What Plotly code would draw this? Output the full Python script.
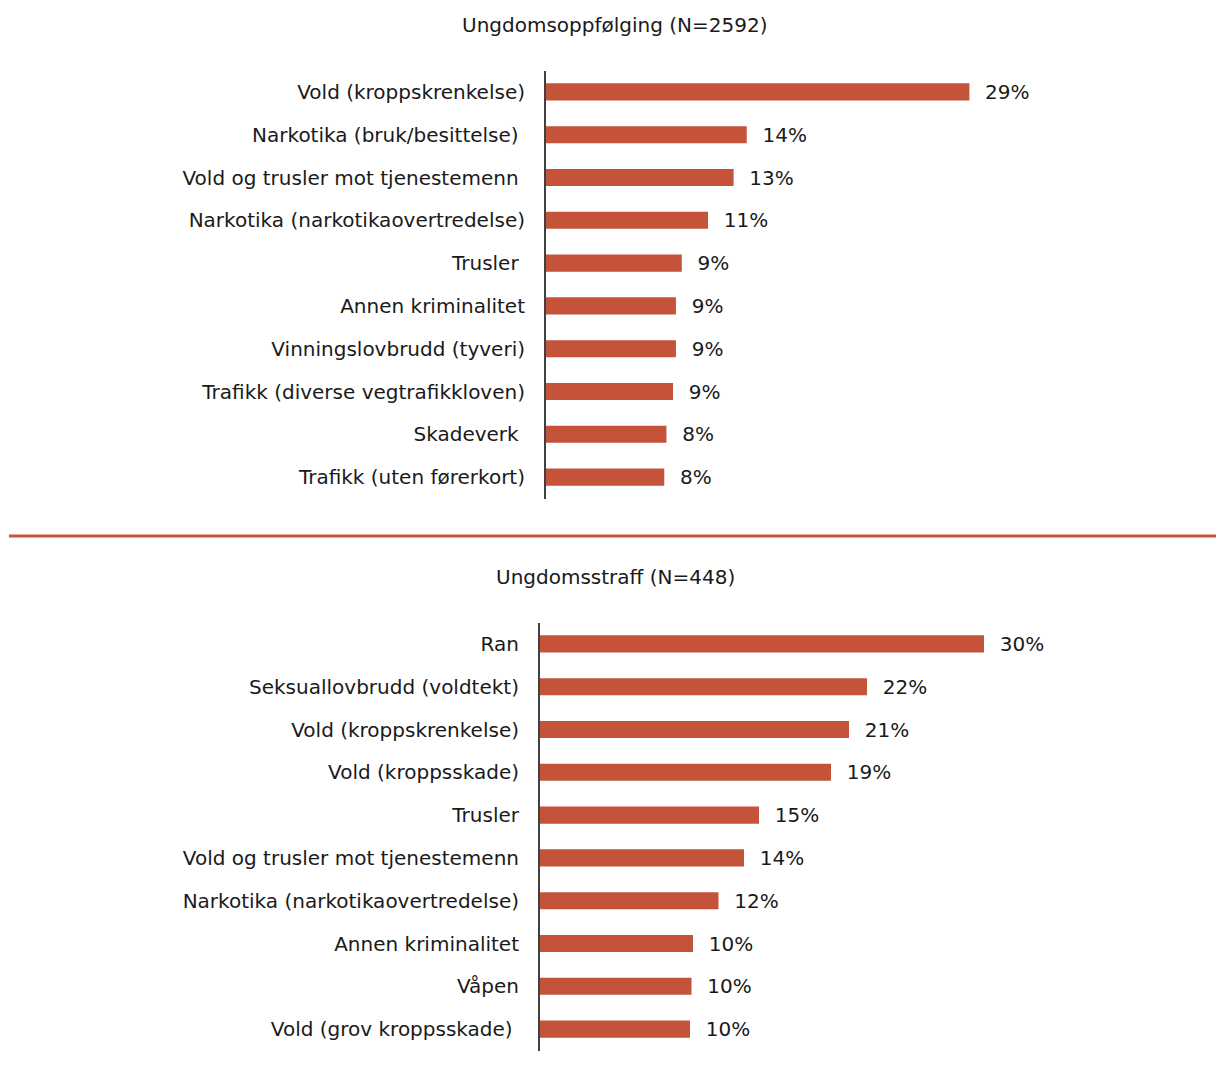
import plotly.graph_objects as go

# Ungdomsoppfølging (N=2592)
top_title = "Ungdomsoppfølging (N=2592)"
top_labels = [
    "Vold (kroppskrenkelse)",
    "Narkotika (bruk/besittelse) ",
    "Vold og trusler mot tjenestemenn ",
    "Narkotika (narkotikaovertredelse)",
    "Trusler ",
    "Annen kriminalitet",
    "Vinningslovbrudd (tyveri)",
    "Trafikk (diverse vegtrafikkloven)",
    "Skadeverk ",
    "Trafikk (uten førerkort)",
]
top_values = [29.0, 13.75, 12.85, 11.1, 9.3, 8.9, 8.9, 8.7, 8.25, 8.1]

# Ungdomsstraff (N=448)
bottom_title = "Ungdomsstraff (N=448)"
bottom_labels = [
    "Ran",
    "Seksuallovbrudd (voldtekt)",
    "Vold (kroppskrenkelse)",
    "Vold (kroppsskade)",
    "Trusler",
    "Vold og trusler mot tjenestemenn",
    "Narkotika (narkotikaovertredelse)",
    "Annen kriminalitet",
    "Våpen",
    "Vold (grov kroppsskade) ",
]
bottom_values = [29.6, 21.8, 20.6, 19.4, 14.6, 13.6, 11.9, 10.2, 10.1, 10.0]

BAR = "#C4533A"
TXT = "#1a1a1a"
FONT = "DejaVu Sans"
FS = 20
W, H = 1216, 1084

fig = go.Figure()

for xs, ys, xa, ya in [(top_values, top_labels, "x", "y"),
                       (bottom_values, bottom_labels, "x2", "y2")]:
    fig.add_trace(go.Bar(
        x=xs, y=ys, orientation="h",
        marker=dict(color=BAR, line=dict(width=0)),
        texttemplate="  %{x:.0f}%", textposition="outside",
        constraintext="none",
        textfont=dict(color=TXT, size=FS), cliponaxis=False,
        xaxis=xa, yaxis=ya, hoverinfo="skip",
    ))

yax = dict(autorange="reversed", showline=True, linecolor="#404040", linewidth=2,
           showgrid=False, zeroline=False, ticks="", ticklabelstandoff=15,
           tickfont=dict(size=FS, color=TXT))
xax = dict(visible=False, showgrid=False, zeroline=False)

fig.update_layout(
    width=W, height=H,
    margin=dict(l=0, r=0, t=0, b=0),
    paper_bgcolor="white", plot_bgcolor="white",
    font=dict(family=FONT, color=TXT, size=FS),
    showlegend=False, bargap=0.6,
    xaxis=dict(xax, domain=[546 / W, 1], range=[0, (W - 546) / 14.6]),
    yaxis=dict(yax, domain=[1 - 498.5 / H, 1 - 70.5 / H], anchor="x"),
    xaxis2=dict(xax, domain=[540 / W, 1], range=[0, (W - 540) / 15.0]),
    yaxis2=dict(yax, domain=[1 - 1050.5 / H, 1 - 622.5 / H], anchor="x2"),
    annotations=[
        dict(text=top_title, x=615 / W, y=1 - 25 / H, xref="paper", yref="paper",
             xanchor="center", yanchor="middle",
             showarrow=False, font=dict(size=FS, color=TXT)),
        dict(text=bottom_title, x=615 / W, y=1 - 577 / H, xref="paper", yref="paper",
             xanchor="center", yanchor="middle",
             showarrow=False, font=dict(size=FS, color=TXT)),
    ],
    shapes=[
        dict(type="line", xref="paper", yref="paper", x0=9 / W, x1=1,
             y0=1 - 536 / H, y1=1 - 536 / H, line=dict(color=BAR, width=3)),
    ],
)

fig.write_html("out.html", config={"displayModeBar": False},
               post_script="document.body.style.margin='0';")
